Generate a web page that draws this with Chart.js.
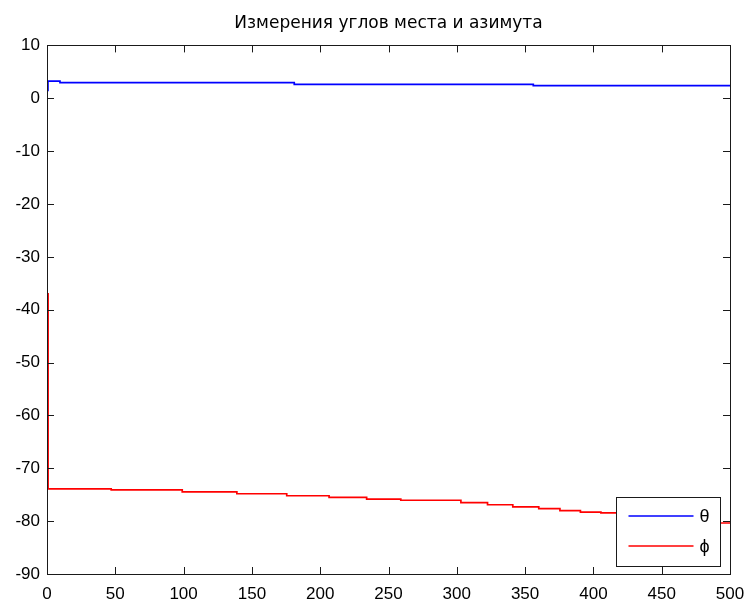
<!DOCTYPE html>
<html>
<head>
<meta charset="utf-8">
<script src="https://cdn.jsdelivr.net/npm/chart.js@4/dist/chart.umd.min.js"></script>
<style>
  html, body { margin: 0; padding: 0; background: #ffffff; }
  #wrap { width: 747px; height: 603px; }
</style>
</head>
<body>
<div id="wrap"><canvas id="c"></canvas></div>
<script>
// Elevation angle (theta): points where the level changes, with the new level
const thetaX = [0, 0.7, 9.5, 181, 356, 500];
const thetaY = [1.5, 3.25, 2.95, 2.63, 2.38, 2.38];

// Azimuth (phi): points where the level changes, with the new level
const phiX = [0, 0.8, 47, 99, 139, 175.5, 206.5, 234, 259, 303, 322.5, 341, 360, 375.5, 390.5, 405.5, 420, 434, 448, 462, 476, 490, 500];
const phiY = [-37, -73.9, -74.1, -74.45, -74.82, -75.2, -75.5, -75.82, -76.05, -76.5, -76.9, -77.3, -77.65, -78.0, -78.28, -78.45, -78.75, -79.05, -79.35, -79.7, -80.0, -80.35, -80.35];

const xTicks = [0, 50, 100, 150, 200, 250, 300, 350, 400, 450, 500];
const yTicks = [10, 0, -10, -20, -30, -40, -50, -60, -70, -80, -90];

const titleText = 'Измерения углов места и азимута';
const thetaLabel = 'θ';
const phiLabel = 'ϕ';

const toPoints = (xs, ys) => xs.map((x, i) => ({ x: x, y: ys[i] }));

const FONT = '"Liberation Sans", Arial, Helvetica, sans-serif';

// Axes box with inward tick marks on all four sides
const boxAxes = {
  id: 'boxAxes',
  afterDraw(chart) {
    const { ctx, chartArea: a, scales } = chart;
    const len = 7;
    ctx.save();
    ctx.strokeStyle = '#1a1a1a';
    ctx.lineWidth = 1;
    ctx.beginPath();
    xTicks.forEach(v => {
      const px = Math.round(scales.x.getPixelForValue(v)) + 0.5;
      ctx.moveTo(px, a.bottom); ctx.lineTo(px, a.bottom - len);
      ctx.moveTo(px, a.top); ctx.lineTo(px, a.top + len);
    });
    yTicks.forEach(v => {
      const py = Math.round(scales.y.getPixelForValue(v)) + 0.5;
      ctx.moveTo(a.left, py); ctx.lineTo(a.left + len, py);
      ctx.moveTo(a.right, py); ctx.lineTo(a.right - len, py);
    });
    ctx.stroke();
    ctx.strokeRect(Math.round(a.left) + 0.5, Math.round(a.top) + 0.5,
                   Math.round(a.right - a.left), Math.round(a.bottom - a.top));
    ctx.restore();
  }
};

// Boxed legend in the lower right corner of the plot
const boxLegend = {
  id: 'boxLegend',
  afterDraw(chart) {
    const { ctx, chartArea: a } = chart;
    const w = 104, h = 69;
    const x0 = Math.round(a.right - 10 - w) + 0.5;
    const y0 = Math.round(a.bottom - 8 - h) + 0.5;
    ctx.save();
    ctx.fillStyle = '#ffffff';
    ctx.fillRect(x0, y0, w, h);
    ctx.strokeStyle = '#1a1a1a';
    ctx.lineWidth = 1;
    ctx.strokeRect(x0, y0, w, h);
    chart.data.datasets.forEach((ds, i) => {
      const yy = y0 + 18.5 + i * 30;
      ctx.strokeStyle = ds.borderColor;
      ctx.lineWidth = 1.5;
      ctx.beginPath();
      ctx.moveTo(x0 + 12, yy);
      ctx.lineTo(x0 + 77, yy);
      ctx.stroke();
      ctx.fillStyle = '#000000';
      ctx.font = '18px ' + FONT;
      ctx.textBaseline = 'middle';
      ctx.textAlign = 'left';
      ctx.fillText(ds.label, x0 + 83, yy + 1);
    });
    ctx.restore();
  }
};

new Chart(document.getElementById('c'), {
  type: 'line',
  data: {
    datasets: [
      {
        label: thetaLabel,
        data: toPoints(thetaX, thetaY),
        borderColor: '#0000ff',
        borderWidth: 1.7,
        pointRadius: 0,
        stepped: 'before',
        fill: false
      },
      {
        label: phiLabel,
        data: toPoints(phiX, phiY),
        borderColor: '#ff0000',
        borderWidth: 1.7,
        pointRadius: 0,
        stepped: 'before',
        fill: false
      }
    ]
  },
  options: {
    responsive: true,
    maintainAspectRatio: false,
    animation: false,
    layout: { padding: { left: 0, right: 17, top: 0, bottom: 0 } },
    plugins: {
      legend: { display: false },
      tooltip: { enabled: false },
      title: {
        display: true,
        fullSize: false,
        text: titleText,
        color: '#000000',
        font: { family: '"DejaVu Sans", ' + FONT, size: 17, weight: 'normal' },
        padding: { top: 13, bottom: 12 }
      }
    },
    scales: {
      x: {
        type: 'linear',
        min: 0,
        max: 500,
        grid: { display: false, drawTicks: false },
        border: { display: false },
        afterBuildTicks: s => { s.ticks = xTicks.map(v => ({ value: v })); },
        afterFit: s => { s.height = 29; s.paddingLeft = 0; s.paddingRight = 0; },
        ticks: {
          color: '#000000',
          padding: 10,
          maxRotation: 0,
          autoSkip: false,
          font: { family: FONT, size: 17 }
        }
      },
      y: {
        type: 'linear',
        min: -90,
        max: 10,
        grid: { display: false, drawTicks: false },
        border: { display: false },
        afterBuildTicks: s => { s.ticks = yTicks.map(v => ({ value: v })); },
        afterFit: s => { s.width = 47; s.paddingTop = 0; s.paddingBottom = 0; },
        ticks: {
          color: '#000000',
          padding: 7,
          autoSkip: false,
          font: { family: FONT, size: 17 }
        }
      }
    }
  },
  plugins: [boxAxes, boxLegend]
});
</script>
</body>
</html>
